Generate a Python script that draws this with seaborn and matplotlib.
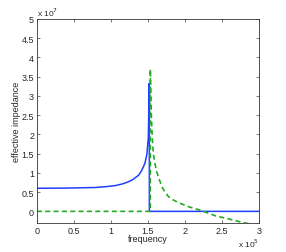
import numpy as np
import pandas as pd
import matplotlib
matplotlib.use("Agg")
import matplotlib.pyplot as plt
import seaborn as sns

# values (frequency in 1e5, impedance in 1e7)
real_freq = [0, 0.4, 0.787, 0.95, 1.06, 1.15, 1.24, 1.3, 1.375, 1.41, 1.44,
             1.46, 1.475, 1.488, 1.497, 1.506, 1.511, 1.515, 1.52, 1.52,
             2.0, 3.0]
real_imp = [0.6, 0.605, 0.62, 0.645, 0.67, 0.71, 0.77, 0.83, 0.94, 1.04,
            1.16, 1.25, 1.37, 1.5, 1.72, 1.9, 2.4, 3.32, 3.1, 0, 0, 0]

imag_freq = [0, 0.5, 1.0, 1.533, 1.533, 1.545, 1.56, 1.574, 1.6, 1.62, 1.65,
             1.69, 1.73, 1.78, 1.84, 1.91, 2.05, 2.21, 2.42, 2.6, 2.78, 3.0]
imag_imp = [0, 0, 0, 0, 3.7, 2.6, 1.89, 1.5, 1.2, 1.03, 0.85,
            0.64, 0.5, 0.38, 0.3, 0.23, 0.12, 0.03, -0.12, -0.2, -0.29, -0.36]

x_ticks = [0, 0.5, 1, 1.5, 2, 2.5, 3]
y_ticks = [0, 0.5, 1, 1.5, 2, 2.5, 3, 3.5, 4, 4.5, 5]

sns.set_style("ticks")
plt.rcParams['font.family'] = ['Liberation Sans', 'DejaVu Sans']
plt.rcParams['font.size'] = 6.5

real_df = pd.DataFrame({'f': real_freq, 'z': real_imp})
imag_df = pd.DataFrame({'f': imag_freq, 'z': imag_imp})

fig = plt.figure(figsize=(2.86, 2.53), dpi=100)
ax = fig.add_axes([0.129, 0.115, 0.776, 0.806])

sns.lineplot(data=real_df, x='f', y='z', ax=ax, color='#1f3fff', lw=1.1,
             estimator=None, sort=False)
sns.lineplot(data=imag_df, x='f', y='z', ax=ax, color='#22aa22', lw=1.2,
             estimator=None, sort=False, dashes=False, linestyle=(0, (3, 2)))

ax.set_xlim(0, 3)
ax.set_ylim(-0.3, 5)
ax.set_xticks(x_ticks)
ax.set_yticks(y_ticks)
ax.set_xticklabels([f"{v:g}" for v in x_ticks])
ax.set_yticklabels([f"{v:g}" for v in y_ticks])
ax.tick_params(direction='in', length=2.5, width=0.5, top=True, right=True,
               labelsize=6.5, pad=2, color='#444444')
for s in ax.spines.values():
    s.set_linewidth(0.6)
    s.set_color('#333333')

ax.set_xlabel('frequency', fontsize=6.5)
ax.xaxis.set_label_coords(0.5, -0.055)
ax.set_ylabel('effective impedance', fontsize=6.5)
ax.yaxis.set_label_coords(-0.07, 0.5)

ax.text(0.0, 1.005, r'x 10$^7$', transform=ax.transAxes, fontsize=6,
        ha='left', va='bottom')
ax.text(1.0, -0.068, r'x 10$^5$', transform=ax.transAxes, fontsize=6,
        ha='right', va='top')

fig.savefig('out.png', dpi=100, facecolor='white')
